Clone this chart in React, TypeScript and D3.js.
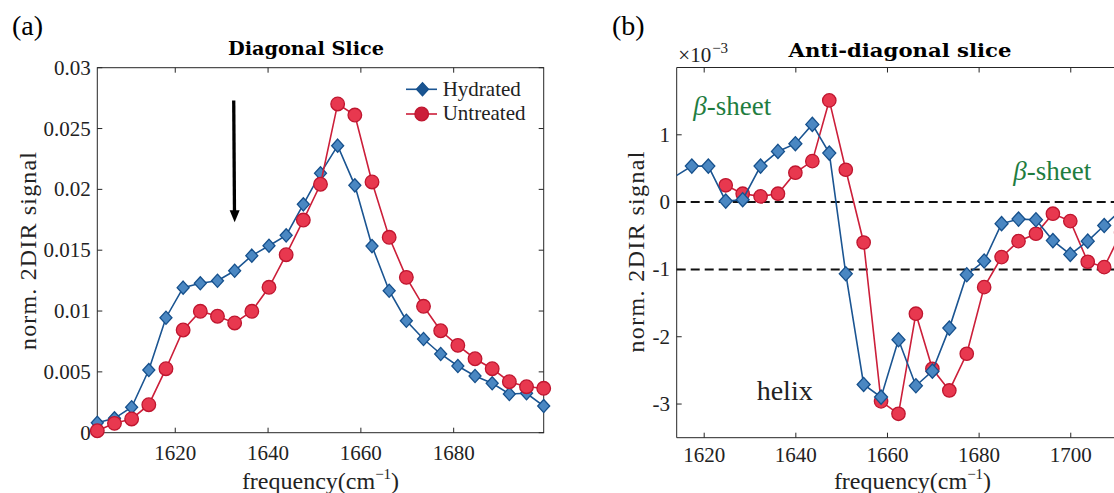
import React from "react";
import * as d3 from "d3";

// diagonal slice (panel a)
const freqA = [1603.2, 1606.9, 1610.6, 1614.3, 1618.0, 1621.7, 1625.4, 1629.1, 1632.8, 1636.5, 1640.2, 1643.9, 1647.6, 1651.3, 1655.0, 1658.7, 1662.4, 1666.1, 1669.8, 1673.5, 1677.2, 1680.9, 1684.6, 1688.3, 1692.0, 1695.7, 1699.4];
const hydratedA = [0.00082, 0.00118, 0.00209, 0.00515, 0.00945, 0.01192, 0.01228, 0.01249, 0.01331, 0.01455, 0.01537, 0.01622, 0.01877, 0.02132, 0.02359, 0.02033, 0.01534, 0.01167, 0.0092, 0.0077, 0.00647, 0.00548, 0.00466, 0.00406, 0.00318, 0.00324, 0.00219];
const untreatedA = [0.00016, 0.00077, 0.00113, 0.0023, 0.00526, 0.00844, 0.00998, 0.00957, 0.00902, 0.00998, 0.01195, 0.01463, 0.01748, 0.02042, 0.02702, 0.02611, 0.02061, 0.01606, 0.01277, 0.01039, 0.00838, 0.00718, 0.00608, 0.00526, 0.00419, 0.00378, 0.00365];
const xTicksA = [1620, 1640, 1660, 1680];
const yTicksA = [0, 0.005, 0.01, 0.015, 0.02, 0.025, 0.03];
const yTickLabelsA = ["0", "0.005", "0.01", "0.015", "0.02", "0.025", "0.03"];

// anti-diagonal slice (panel b), values in units of 1e-3
const freqB = [1613.6, 1617.3, 1620.9, 1624.7, 1628.4, 1632.3, 1636.1, 1639.9, 1643.6, 1647.3, 1650.9, 1654.8, 1658.6, 1662.4, 1666.2, 1669.8, 1673.5, 1677.3, 1681.1, 1684.9, 1688.6, 1692.4, 1696.1, 1699.9, 1703.7, 1707.3, 1711.0];
const hydratedB = [0.38, 0.535, 0.535, 0.015, 0.036, 0.535, 0.753, 0.868, 1.155, 0.728, -1.064, -2.709, -2.897, -2.045, -2.728, -2.511, -1.872, -1.079, -0.875, -0.32, -0.252, -0.262, -0.572, -0.777, -0.58, -0.348, -0.12];
const untreatedB = [null, null, null, 0.25, 0.125, 0.085, 0.125, 0.437, 0.609, 1.511, 0.481, -0.6, -2.96, -3.145, -1.658, -2.476, -2.798, -2.253, -1.263, -0.817, -0.58, -0.47, -0.172, -0.282, -0.886, -0.966, -0.45];
const xTicksB = [1620, 1640, 1660, 1680, 1700];
const yTicksB = [-3, -2, -1, 0, 1];
const yTickLabelsB = ["-3", "-2", "-1", "0", "1"];
const refLinesB = [0, -1];

const SERIF = "Liberation Serif, Times New Roman, serif";
const BOLD = "DejaVu Serif, serif";
const AXIS = "#262626";
const INK = "#222";
const BLUE = { line: "#1b5592", fill: "#4a87c2", edge: "#16508c" };
const RED = { line: "#cc1f3a", fill: "#e8384f", edge: "#bf162f" };
const GREEN = "#1f7d3f";
const serif = { fontFamily: SERIF };

function diamond(x, y, w, h) {
  return `M${x},${y - h}L${x + w},${y}L${x},${y + h}L${x - w},${y}Z`;
}

function Series({ freq, vals, x, y, color, shape, size, clip }) {
  const pts = freq.map((f, i) => ({ f, v: vals[i] })).filter(d => d.v !== null);
  const line = d3.line().x(d => x(d.f)).y(d => y(d.v));
  const [lo, hi] = x.domain();
  const shown = pts.filter(d => d.f >= lo - 0.01 && d.f <= hi + 0.01);
  return (
    <g>
      <path d={line(pts)} fill="none" stroke={color.line} strokeWidth={1.6} clipPath={`url(#${clip})`} />
      {shown.map((d, i) => shape === "diamond"
        ? <path key={i} d={diamond(x(d.f), y(d.v), size, size + 0.6)} fill={color.fill} stroke={color.edge} strokeWidth={1.3} />
        : <circle key={i} cx={x(d.f)} cy={y(d.v)} r={size} fill={color.fill} stroke={color.edge} strokeWidth={1.3} />)}
    </g>
  );
}

function Ticks({ x, y, xTicks, yTicks, right }) {
  const [x0, x1] = x.range();
  const [y0, y1] = y.range();
  const len = 5;
  return (
    <g stroke={AXIS} strokeWidth={1}>
      {xTicks.map(t => (
        <g key={"x" + t}>
          <line x1={x(t)} x2={x(t)} y1={y0} y2={y0 - len} />
          <line x1={x(t)} x2={x(t)} y1={y1} y2={y1 + len} />
        </g>
      ))}
      {yTicks.map(t => (
        <g key={"y" + t}>
          <line x1={x0} x2={x0 + len} y1={y(t)} y2={y(t)} />
          {right && <line x1={x1} x2={x1 - len} y1={y(t)} y2={y(t)} />}
        </g>
      ))}
    </g>
  );
}

function FreqLabel({ cx }) {
  return (
    <text x={cx} y={488.5} fontSize={24} textAnchor="middle" fill={INK} style={serif}>
      frequency(cm<tspan fontSize={15} dy={-10}>−1</tspan><tspan dy={10}>)</tspan>
    </text>
  );
}

export default function App() {
  const xA = d3.scaleLinear().domain([1603.2, 1699.4]).range([97.3, 543.7]);
  const yA = d3.scaleLinear().domain([0, 0.03]).range([432.7, 67.7]);
  const xB = d3.scaleLinear().domain([1614.0, 1711.4]).range([676.7, 1123]);
  const yB = d3.scaleLinear().domain([-3.5, 2]).range([437.7, 67.5]);

  // arrow in panel a
  const ax = xA(1632.6), ay0 = yA(0.0273), ax1 = xA(1632.8), ay1 = yA(0.0173);

  return (
    <svg width={1114} height={493} style={{ position: "absolute", left: 0, top: 0, background: "#fff" }}>
      <defs>
        <clipPath id="clipA"><rect x={97.3} y={67.7} width={446.4} height={365} /></clipPath>
        <clipPath id="clipB"><rect x={676.7} y={67.5} width={446.3} height={370.2} /></clipPath>
      </defs>

      {/* panel a */}
      <text x={12} y={35} fontSize={28} style={serif}>(a)</text>
      <text x={306} y={55} fontWeight="bold" fontSize={18} textAnchor="middle" style={{ fontFamily: BOLD }}
        textLength={156} lengthAdjust="spacingAndGlyphs">Diagonal Slice</text>
      <rect x={97.3} y={67.7} width={446.4} height={365} fill="none" stroke={AXIS} strokeWidth={1} />
      <Ticks x={xA} y={yA} xTicks={xTicksA} yTicks={yTicksA} right />
      {xTicksA.map(t => (
        <text key={t} x={xA(t)} y={460} fontSize={21} textAnchor="middle" fill={INK} style={serif}>{t}</text>
      ))}
      {yTicksA.map((t, i) => (
        <text key={t} x={90.7} y={yA(t) + 7} fontSize={21} textAnchor="end" fill={INK} style={serif}>{yTickLabelsA[i]}</text>
      ))}
      <FreqLabel cx={320.5} />
      <text transform="translate(36,251) rotate(-90)" fontSize={24} textAnchor="middle" fill={INK} style={serif}
        textLength={198} lengthAdjust="spacing">norm. 2DIR signal</text>

      <Series freq={freqA} vals={hydratedA} x={xA} y={yA} color={BLUE} shape="diamond" size={6} clip="clipA" />
      <Series freq={freqA} vals={untreatedA} x={xA} y={yA} color={RED} shape="circle" size={6.8} clip="clipA" />

      <line x1={ax} y1={ay0} x2={(ax + ax1) / 2 + 0.3} y2={ay1 - 9} stroke="#000" strokeWidth={3.3} />
      <path d={`M${ax1},${ay1}L${ax1 - 5},${ay1 - 12}L${ax1 + 5},${ay1 - 12}Z`} fill="#000" />

      {/* legend */}
      <line x1={406} x2={437} y1={89.3} y2={89.3} stroke={BLUE.line} strokeWidth={1.6} />
      <path d={diamond(422.5, 89.3, 6, 6.6)} fill={BLUE.line} stroke={BLUE.edge} strokeWidth={1.3} />
      <text x={442.7} y={95.5} fontSize={21} fill={INK} style={serif}>Hydrated</text>
      <line x1={406} x2={437} y1={114} y2={114} stroke={RED.line} strokeWidth={1.6} />
      <circle cx={421.7} cy={114} r={6.8} fill={RED.line} stroke={RED.edge} strokeWidth={1.3} />
      <text x={442.7} y={120} fontSize={21} fill={INK} style={serif}>Untreated</text>

      {/* panel b */}
      <text x={612} y={35} fontSize={28} style={serif}>(b)</text>
      <text x={900} y={56.7} fontWeight="bold" fontSize={19} textAnchor="middle" style={{ fontFamily: BOLD }}
        textLength={223} lengthAdjust="spacingAndGlyphs">Anti-diagonal slice</text>
      <text x={678.3} y={61.7} fontSize={21} fill={INK} style={serif}>×10<tspan fontSize={15} dx={1} dy={-9}>−3</tspan></text>
      <line x1={676.7} x2={1114} y1={67.5} y2={67.5} stroke={AXIS} strokeWidth={1} />
      <line x1={676.7} x2={1114} y1={437.7} y2={437.7} stroke={AXIS} strokeWidth={1} />
      <line x1={676.7} x2={676.7} y1={67.5} y2={437.7} stroke={AXIS} strokeWidth={1} />
      <Ticks x={xB} y={yB} xTicks={xTicksB} yTicks={yTicksB} />
      {xTicksB.map(t => (
        <text key={t} x={xB(t)} y={462} fontSize={21} textAnchor="middle" fill={INK} style={serif}>{t}</text>
      ))}
      {yTicksB.map((t, i) => (
        <text key={t} x={670} y={yB(t) + 7} fontSize={21} textAnchor="end" fill={INK} style={serif}>{yTickLabelsB[i]}</text>
      ))}
      <FreqLabel cx={912.5} />
      <text transform="translate(644,252) rotate(-90)" fontSize={24} textAnchor="middle" fill={INK} style={serif}
        textLength={201} lengthAdjust="spacing">norm. 2DIR signal</text>

      {refLinesB.map(v => (
        <line key={v} x1={676.7} x2={1114} y1={yB(v)} y2={yB(v)} stroke="#111" strokeWidth={2} strokeDasharray="9,5" />
      ))}

      <Series freq={freqB} vals={untreatedB} x={xB} y={yB} color={RED} shape="circle" size={6.7} clip="clipB" />
      <Series freq={freqB} vals={hydratedB} x={xB} y={yB} color={BLUE} shape="diamond" size={6.5} clip="clipB" />

      <text x={693.3} y={115} fontSize={27} fill={GREEN} style={serif}><tspan fontStyle="italic">β</tspan>-sheet</text>
      <text x={1013.3} y={180} fontSize={27} fill={GREEN} style={serif}><tspan fontStyle="italic">β</tspan>-sheet</text>
      <text x={756.7} y={400} fontSize={28} fill={INK} style={serif}>helix</text>
    </svg>
  );
}
